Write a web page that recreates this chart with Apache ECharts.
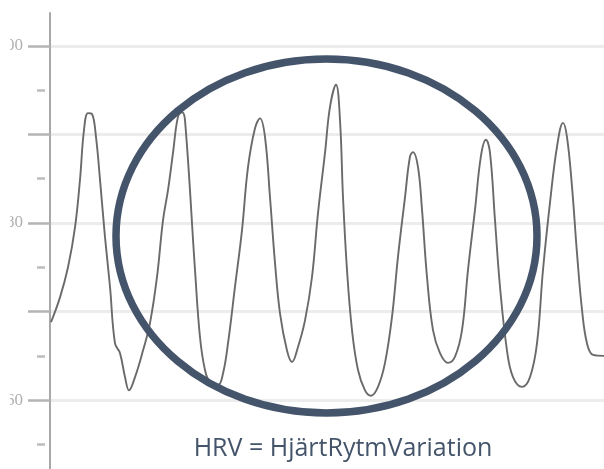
<!DOCTYPE html>
<html>
<head>
<meta charset="utf-8">
<script src="https://cdn.jsdelivr.net/npm/echarts@6/dist/echarts.min.js"></script>
<style>
  html, body { margin: 0; padding: 0; background: #fff; }
  #hrv { width: 604px; height: 469px; }
</style>
</head>
<body>
<div id="hrv"></div>
<script>
// samples along the recording (x positions) and heart rate in bpm
var sampleTime = [1, 10, 18, 25, 30, 34, 38, 42, 46, 50, 55, 60, 65, 70, 75, 79, 85, 93, 100, 107, 113, 118, 123, 128, 132, 135,
  145, 150, 155, 160, 168, 173, 178, 185, 192, 198, 205, 210, 215, 220, 225, 230, 237, 242, 248, 255, 262, 268, 275, 280, 286,
  290, 293, 297, 302, 308, 315, 321, 328, 335, 342, 348, 355, 360, 363, 368, 372, 377, 383, 390, 398, 405, 412, 418, 425, 431,
  436, 440, 445, 450, 457, 463, 472, 480, 487, 493, 500, 507, 513, 517, 522, 527, 532, 537, 543, 554];
var heartRate = [68.8, 71.6, 75.0, 79.5, 84.9, 90.5, 92.4, 92.3, 89.7, 84.9, 78.4, 72.8, 66.4, 65.3, 62.6, 61.1, 62.6, 65.6, 68.7, 73.9, 80.3, 83.7, 87.9, 92.0, 92.5, 91.6,
  74.7, 67.1, 63.4, 62.0, 61.7, 63.0, 66.4, 72.8, 79.2, 86.3, 90.7, 91.8, 89.7, 82.9, 75.5, 69.8, 65.6, 64.3, 66.0, 69.0, 73.9, 81.1, 87.9, 93.1, 95.6,
  91.6, 82.9, 74.7, 67.9, 63.4, 61.1, 60.5, 61.5, 64.2, 69.4, 76.2, 82.9, 87.5, 88.0, 86.3, 81.5, 73.9, 67.9, 65.3, 64.2, 64.9, 67.9, 74.7, 81.5, 87.6,
  89.4, 87.9, 80.3, 72.8, 65.6, 62.6, 61.5, 62.6, 66.4, 74.7, 82.3, 88.6, 91.3, 89.7, 84.1, 76.6, 70.2, 66.4, 65.1, 65.0];

var yMajorTicks = [60, 70, 80, 90, 100];
var yMinorTicks = [55, 65, 75, 85, 95];
var yLabels = [60, 80, 100];
var caption = 'HRV = HjärtRytmVariation';

var seriesData = [];
for (var i = 0; i < sampleTime.length; i++) {
  seriesData.push([sampleTime[i], heartRate[i]]);
}

var chart = echarts.init(document.getElementById('hrv'), null, { renderer: 'canvas' });

var option = {
  animation: false,
  backgroundColor: '#ffffff',
  grid: { left: 50, right: 0, top: 13, bottom: -2, containLabel: false, outerBoundsMode: 'none' },
  xAxis: {
    type: 'value', min: 0, max: 554, show: false
  },
  yAxis: [{
    type: 'value', position: 'left', min: 52, max: 103.7,
    axisLine: { show: true, lineStyle: { color: '#a8a8a8', width: 2 } },
    axisTick: { show: true, customValues: yMajorTicks, length: 22, lineStyle: { color: '#b4b4b4', width: 2.5 } },
    axisLabel: { show: true, customValues: yLabels, margin: 27, color: '#b0b0b0', fontSize: 17, fontFamily: 'Liberation Sans Narrow' },
    splitLine: { show: true, lineStyle: { color: '#ececec', width: 3 } }
  }, {
    // short in-between ticks, set slightly away from the axis line
    type: 'value', position: 'left', min: 52, max: 103.7, offset: 5,
    axisLine: { show: false },
    axisTick: { show: true, customValues: yMinorTicks, length: 8, lineStyle: { color: '#bdbdbd', width: 2.5 } },
    axisLabel: { show: false },
    splitLine: { show: false }
  }],
  series: [{
    type: 'line',
    data: seriesData,
    yAxisIndex: 0,
    smooth: 0.4,
    symbol: 'none',
    lineStyle: { color: '#6a6a6a', width: 1.9 }
  }],
  graphic: [{
    type: 'rect', left: 0, top: 0, z: 100,
    shape: { width: 10, height: 469 },
    style: { fill: '#ffffff' }
  }, {
    type: 'ellipse', z: 100,
    shape: { cx: 326.5, cy: 236, rx: 210.5, ry: 177 },
    style: { fill: 'none', stroke: '#44546a', lineWidth: 7.5 }
  }, {
    type: 'text', z: 100,
    x: 343, y: 449,
    style: {
      text: caption, fill: '#44546a', font: '25px "Open Sans"',
      textAlign: 'center', textVerticalAlign: 'middle'
    }
  }]
};

chart.setOption(option);
</script>
</body>
</html>
